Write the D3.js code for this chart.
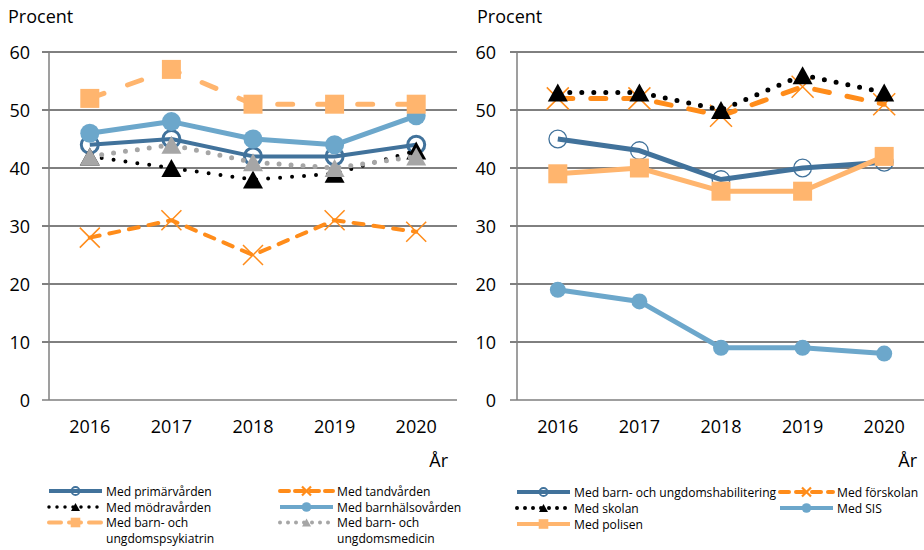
<!DOCTYPE html>
<html><head><meta charset="utf-8">
<script src="https://cdn.jsdelivr.net/npm/d3@7/dist/d3.min.js"></script>
<style>
body{margin:0;background:#fff}
svg{display:block}
text{font-family:"Open Sans",sans-serif;fill:#000}
</style>
</head><body>
<svg id="c" width="924" height="550"></svg>
<script>
// ---------- data ----------
const years = ["2016","2017","2018","2019","2020"];
const yTicks = [0,10,20,30,40,50,60];
const yLabel = "Procent";
const xLabel = "År";

// left panel
const primarvarden     = [44,45,42,42,44];
const tandvarden       = [28,31,25,31,29];
const modravarden      = [42,40,38,39,43];
const barnhalsovarden  = [46,48,45,44,49];
const bup              = [52,57,51,51,51];
const barnmedicin      = [42,44,41,40,42];
// right panel
const habilitering     = [45,43,38,40,41];
const forskolan        = [52,52,49,54,51];
const skolan           = [53,53,50,56,53];
const sis              = [19,17,9,9,8];
const polisen          = [39,40,36,36,42];

const leftSeries = [
  {name:["Med primärvården"], values:primarvarden, style:"darkOpen"},
  {name:["Med tandvården"], values:tandvarden, style:"orangeX"},
  {name:["Med mödravården"], values:modravarden, style:"blackDot"},
  {name:["Med barnhälsovården"], values:barnhalsovarden, style:"lightCircle"},
  {name:["Med barn- och","ungdomspsykiatrin"], values:bup, style:"peachDash"},
  {name:["Med barn- och","ungdomsmedicin"], values:barnmedicin, style:"greyDot"}
];
const rightSeries = [
  {name:["Med barn- och ungdomshabilitering"], values:habilitering, style:"darkOpenThin"},
  {name:["Med förskolan"], values:forskolan, style:"orangeX2"},
  {name:["Med skolan"], values:skolan, style:"blackDot2"},
  {name:["Med SIS"], values:sis, style:"lightCircle2"},
  {name:["Med polisen"], values:polisen, style:"peachSolid"}
];

// ---------- styles ----------
const DARK="#41729B", LIGHT="#6CA7CB", ORANGE="#FF8C1A", PEACH="#FFB56E", GREY="#A6A6A6";
const styles = {
  darkOpen:   {color:DARK, w:4, dash:null, m:"circleOpen", ms:10, mw:3, lw:4, ldash:null},
  orangeX:    {color:ORANGE, w:4, dash:"10,10", m:"x", ms:10, mw:1.5, lw:4, ldash:"9,6"},
  blackDot:   {color:"#000", w:4, dash:"0,12", m:"tri", ms:10, mw:0, lw:3.5, ldash:"0,8"},
  lightCircle:{color:LIGHT, w:5, dash:null, m:"circle", ms:9.5, mw:0, lw:4, ldash:null},
  peachDash:  {color:PEACH, w:5, dash:"15,25", m:"square", ms:9.5, mw:0, lw:4, ldash:"12,8"},
  greyDot:    {color:GREY, w:5, dash:"0,12", m:"tri", ms:10, mw:0, lw:4, ldash:"0,8"},
  darkOpenThin:{color:DARK, w:5, dash:null, m:"circleOpen", ms:9.5, mw:1.3, lw:4, ldash:null},
  orangeX2:   {color:ORANGE, w:5, dash:"15,18", m:"x", ms:11, mw:1.5, lw:4, ldash:"9,7"},
  blackDot2:  {color:"#000", w:5, dash:"0,12", m:"tri", ms:10, mw:0, lw:4, ldash:"0,8"},
  lightCircle2:{color:LIGHT, w:5, dash:null, m:"circle", ms:8, mw:0, lw:4, ldash:null},
  peachSolid: {color:PEACH, w:5, dash:null, m:"square", ms:9.5, mw:0, lw:4, ldash:null}
};

const svg = d3.select("#c");

function drawMarker(g, type, x, y, s, st, legend) {
  const c = st.color;
  if (type === "circleOpen") {
    g.append("circle").attr("cx",x).attr("cy",y).attr("r",s - (legend?0:st.mw/2))
      .attr("fill", legend ? "none" : "#fff").attr("fill-opacity", 0)
      .attr("stroke",c).attr("stroke-width", legend ? 1.8 : st.mw);
  } else if (type === "circle") {
    g.append("circle").attr("cx",x).attr("cy",y).attr("r",s).attr("fill",c);
  } else if (type === "square") {
    g.append("rect").attr("x",x-s).attr("y",y-s).attr("width",2*s).attr("height",2*s).attr("fill",c);
  } else if (type === "tri") {
    const h = s*0.9;
    g.append("path").attr("d",`M${x-s},${y+h}L${x+s},${y+h}L${x},${y-h}Z`).attr("fill",c);
  } else if (type === "x") {
    g.append("path").attr("d",`M${x-s},${y-s}L${x+s},${y+s}M${x-s},${y+s}L${x+s},${y-s}`)
      .attr("stroke",c).attr("stroke-width", legend ? 2.2 : st.mw).attr("fill","none");
  }
}

function panel(opts) {
  const {x0, x1, y0, y1, series, labelX, tickLabelX, arX, legend} = opts;
  const g = svg.append("g");
  const x = d3.scaleBand().domain(years).range([x0, x1]);
  const y = d3.scaleLinear().domain([0,60]).range([y1, y0]);
  const cx = d => x(d) + x.bandwidth()/2;

  g.append("text").attr("x", labelX).attr("y", 23).attr("font-size", 18).text(yLabel);

  yTicks.forEach(t => {
    if (t !== 0) {
      g.append("line").attr("x1", x0-7).attr("x2", x1).attr("y1", y(t)).attr("y2", y(t))
        .attr("stroke","#000").attr("stroke-width",1);
    }
    g.append("text").attr("x", tickLabelX).attr("y", y(t)+6.5).attr("text-anchor","end")
      .attr("font-size",18).text(t);
  });
  g.append("line").attr("x1", x0-7).attr("x2", x1).attr("y1", y(0)).attr("y2", y(0))
    .attr("stroke","#7f7f7f").attr("stroke-width",1.5);
  g.append("line").attr("x1", x0).attr("x2", x0).attr("y1", y(60)).attr("y2", y(0))
    .attr("stroke","#7f7f7f").attr("stroke-width",1.5);

  years.forEach(yr => {
    g.append("text").attr("x", cx(yr)).attr("y", 433).attr("text-anchor","middle")
      .attr("font-size",18).text(yr);
  });
  g.append("text").attr("x", arX).attr("y", 467).attr("text-anchor","end")
    .attr("font-size",18).text(xLabel);

  const line = d3.line().x((d,i)=>cx(years[i])).y(d=>y(d));
  series.forEach(s => {
    const st = styles[s.style];
    const sg = g.append("g");
    const p = sg.append("path").attr("d", line(s.values)).attr("fill","none")
      .attr("stroke", st.color).attr("stroke-width", st.w)
      .attr("stroke-linejoin","round");
    if (st.dash) p.attr("stroke-dasharray", st.dash).attr("stroke-linecap","round");
    s.values.forEach((v,i) => drawMarker(sg, st.m, cx(years[i]), y(v), st.ms, st, false));
  });

  legend.forEach(L => {
    const s = series[L.idx];
    const st = styles[s.style];
    const lg = g.append("g");
    const lx0 = L.x, lx1 = L.x + 53, ly = L.y;
    const p = lg.append("line").attr("x1", lx0).attr("x2", lx1).attr("y1", ly).attr("y2", ly)
      .attr("stroke", st.color).attr("stroke-width", st.lw);
    if (st.ldash) p.attr("stroke-dasharray", st.ldash).attr("stroke-linecap","round");
    const ms = st.m === "x" ? 4.5 : (st.m === "circleOpen" ? 4 : (st.m==="tri"?4.5:4.8));
    drawMarker(lg, st.m, (lx0+lx1)/2, ly, ms, st, true);
    s.name.forEach((n,k) => {
      lg.append("text").attr("x", lx1 + 4).attr("y", ly + 4.5 + k*15.5)
        .attr("font-size", 12.1).text(n);
    });
  });
}

panel({x0:49, x1:457, y0:52, y1:400, series:leftSeries, labelX:8, tickLabelX:30, arX:448,
  legend:[
    {idx:0, x:49, y:491}, {idx:2, x:49, y:507}, {idx:4, x:49, y:522.5},
    {idx:1, x:280, y:491}, {idx:3, x:280, y:507}, {idx:5, x:280, y:522.5}
  ]});
panel({x0:517, x1:925, y0:52, y1:400, series:rightSeries, labelX:477, tickLabelX:496, arX:917,
  legend:[
    {idx:0, x:517, y:492}, {idx:2, x:517, y:508}, {idx:4, x:517, y:524},
    {idx:1, x:780, y:492}, {idx:3, x:780, y:508}
  ]});
</script>
</body></html>
